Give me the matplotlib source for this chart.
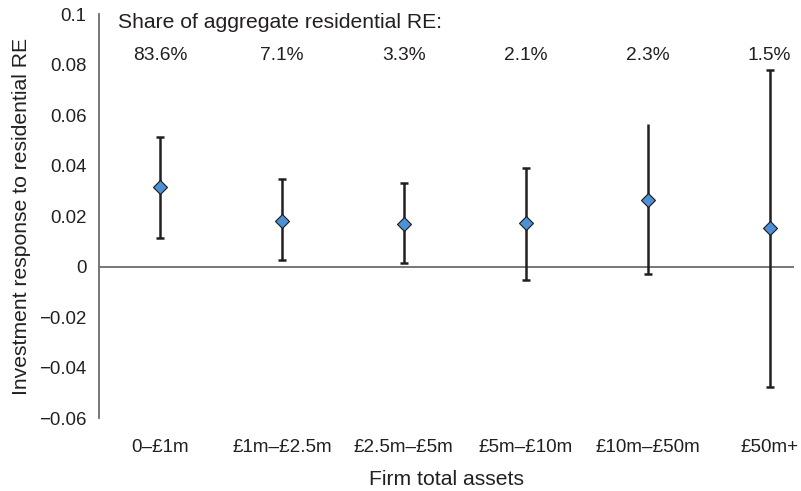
import numpy as np
import matplotlib
matplotlib.use("Agg")
import matplotlib.pyplot as plt

plt.rcParams['font.family'] = ['Liberation Sans', 'DejaVu Sans']

categories = ["0–£1m", "£1m–£2.5m", "£2.5m–£5m", "£5m–£10m", "£10m–£50m", "£50m+"]
shares = ["83.6%", "7.1%", "3.3%", "2.1%", "2.3%", "1.5%"]
estimate = [0.0316, 0.0182, 0.0168, 0.0174, 0.0263, 0.0152]
upper = [0.0514, 0.0347, 0.0333, 0.0392, 0.0565, 0.0779]
lower = [0.0114, 0.0027, 0.0016, -0.0053, -0.0030, -0.0475]
upper_cap = [True, True, True, True, False, True]

text_col = "#231f20"
line_col = "#231f20"
axis_col = "#6b6b6b"

x = np.arange(len(categories))
est = np.array(estimate)
up = np.array(upper)
lo = np.array(lower)
cap = np.array(upper_cap)

fig = plt.figure(figsize=(8.01, 4.91), dpi=100)
ax = fig.add_axes([0.1236, 0.1483, 0.8677, 0.8228])

ax.axhline(0, color=axis_col, lw=1.3, zorder=1)

# lower whiskers with caps
ax.errorbar(x, est, yerr=[est - lo, np.zeros_like(est)], fmt='none',
            ecolor=line_col, elinewidth=1.8, capsize=3.2, capthick=1.8, zorder=2)
# upper whiskers, with and without caps
ax.errorbar(x[cap], est[cap], yerr=[np.zeros(cap.sum()), (up - est)[cap]], fmt='none',
            ecolor=line_col, elinewidth=1.8, capsize=3.2, capthick=1.8, zorder=2)
ax.errorbar(x[~cap], est[~cap], yerr=[np.zeros((~cap).sum()), (up - est)[~cap]], fmt='none',
            ecolor=line_col, elinewidth=1.8, capsize=0, zorder=2)
ax.plot(x, est, linestyle='none', marker='D', markersize=7,
        markerfacecolor="#4d90d6", markeredgecolor="#1a1a1a", markeredgewidth=0.8, zorder=3)

ax.set_xlim(-0.5, 5.2)
ax.set_ylim(-0.06, 0.1)
ax.set_yticks([-0.06, -0.04, -0.02, 0, 0.02, 0.04, 0.06, 0.08, 0.1])
ax.set_yticklabels(["\u22120.06", "\u22120.04", "\u22120.02", "0", "0.02", "0.04", "0.06", "0.08", "0.1"])
ax.set_xticks(x)
ax.set_xticklabels(categories)
ax.tick_params(axis='y', length=0, pad=9, labelsize=13.4, labelcolor=text_col)
ax.tick_params(axis='x', length=0, pad=15, labelsize=13.6, labelcolor=text_col)

for s in ['top', 'right', 'bottom']:
    ax.spines[s].set_visible(False)
ax.spines['left'].set_color(axis_col)
ax.spines['left'].set_linewidth(1.3)

ax.text(-0.347, 0.0969, "Share of aggregate residential RE:", fontsize=15.2,
        color=text_col, ha='left', va='center')
for i, s in enumerate(shares):
    ax.text(x[i], 0.0835, s, fontsize=13.8, color=text_col, ha='center', va='center')

ax.set_ylabel("Investment response to residential RE", fontsize=15.2, color=text_col, labelpad=6)
ax.set_xlabel("Firm total assets", fontsize=15.2, color=text_col, labelpad=10)

fig.savefig("out.png", dpi=100)
